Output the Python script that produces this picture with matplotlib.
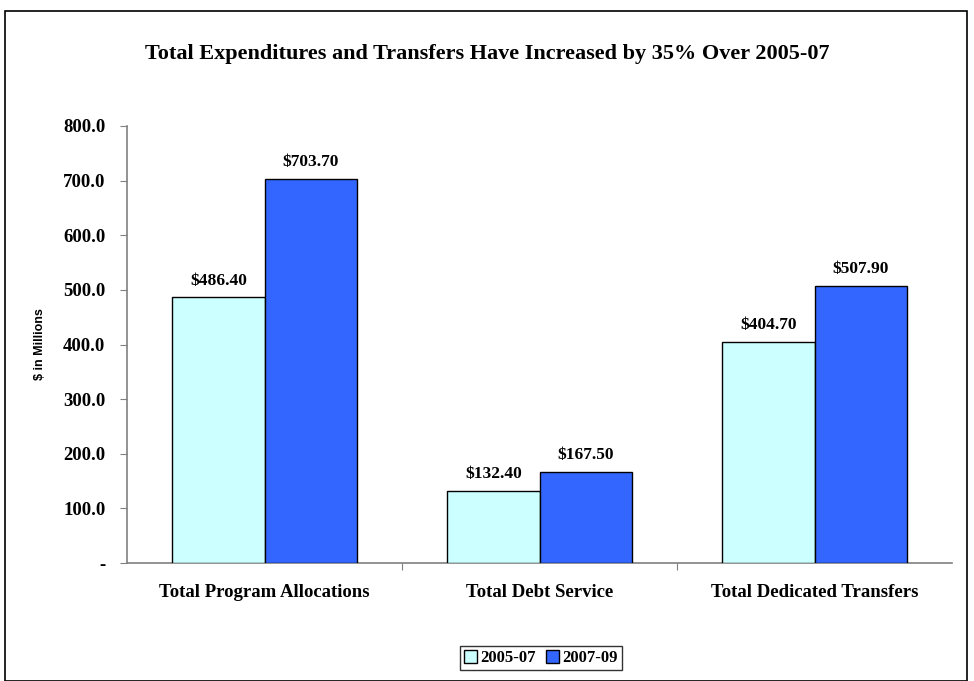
import matplotlib
matplotlib.use("Agg")
import matplotlib.pyplot as plt
import numpy as np
from matplotlib.patches import Rectangle

categories = ["Total Program Allocations", "Total Debt Service", "Total Dedicated Transfers"]
series_names = ["2005-07", "2007-09"]
values_0507 = [486.4, 132.4, 404.7]
values_0709 = [703.7, 167.5, 507.9]
colors = ["#CCFFFF", "#3366FF"]
yticks = [0, 100, 200, 300, 400, 500, 600, 700, 800]
ytick_labels = ["-", "100.0", "200.0", "300.0", "400.0", "500.0", "600.0", "700.0", "800.0"]

serif = ["Liberation Serif", "DejaVu Serif"]

fig = plt.figure(figsize=(9.74, 6.81), dpi=100)
W, H = 974, 681
ax = fig.add_axes([127 / W, 1 - 563 / H, (952 - 127) / W, (563 - 126) / H])

x = np.arange(len(categories))
bw = 0.335
b1 = ax.bar(x - bw / 2, values_0507, bw, color=colors[0], edgecolor="black", linewidth=1.0, label=series_names[0], zorder=3)
b2 = ax.bar(x + bw / 2, values_0709, bw, color=colors[1], edgecolor="black", linewidth=1.0, label=series_names[1], zorder=3)

for bars, vals in ((b1, values_0507), (b2, values_0709)):
    for r, v in zip(bars, vals):
        ax.text(r.get_x() + r.get_width() / 2, v + 16, f"${v:,.2f}", ha="center", va="bottom",
                fontsize=12.5, fontweight="bold", family=serif)

ax.set_xlim(-0.5, 2.5)
ax.set_ylim(0, 800)
ax.set_yticks(yticks)
ax.set_yticklabels(ytick_labels, fontsize=13.5, fontweight="bold", family=serif)
ax.set_xticks([0.5, 1.5])
ax.set_xticklabels([])
ax.tick_params(axis="x", direction="out", length=5, color="#808080")
ax.tick_params(axis="y", direction="out", length=5, color="#808080", pad=10.5)
for i, c in enumerate(categories):
    ax.text(i, -0.048, c, transform=ax.get_xaxis_transform(), ha="center", va="top",
            fontsize=13.5, fontweight="bold", family=serif)
for s in ("top", "right"):
    ax.spines[s].set_visible(False)
for s in ("left", "bottom"):
    ax.spines[s].set_color("#808080")
    ax.spines[s].set_linewidth(1.2)

ax.set_ylabel("$ in Millions", fontsize=9, fontweight="bold", family=["Liberation Sans", "DejaVu Sans"], labelpad=12)

fig.text(0.5, 1 - 54 / H, "Total Expenditures and Transfers Have Increased by 35% Over 2005-07",
         ha="center", va="center", fontsize=16, fontweight="bold", family=serif)

leg = fig.legend(handles=[b1, b2], labels=series_names, loc="center", bbox_to_anchor=(541 / W, 1 - 658 / H),
                 ncol=2, frameon=True, fancybox=False, edgecolor="black",
                 prop={"family": serif, "weight": "bold", "size": 12},
                 handlelength=0.8, handleheight=0.8, handletextpad=0.2, columnspacing=0.6,
                 borderpad=0.25, borderaxespad=0)
leg.get_frame().set_linewidth(1.0)

fig.patches.append(Rectangle((5 / W, 0), (967 - 5) / W, 1 - 11 / H, transform=fig.transFigure,
                             fill=False, edgecolor="black", linewidth=1.2))

fig.savefig("out.png", dpi=100)
